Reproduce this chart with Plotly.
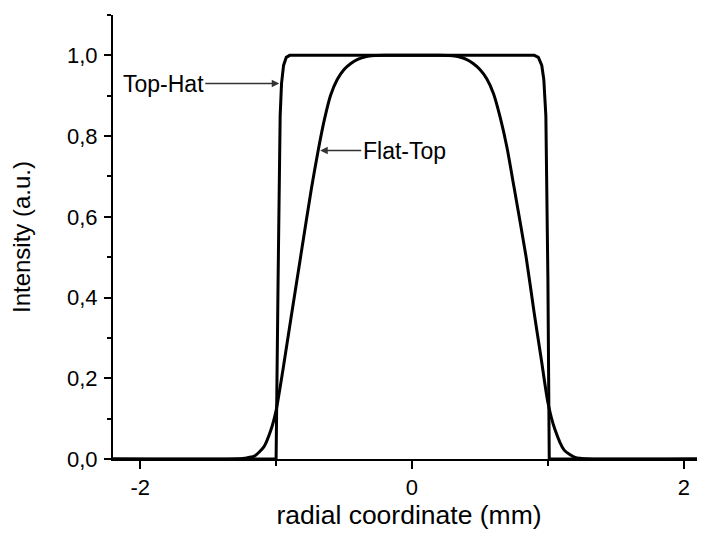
import plotly.graph_objects as go

# Top-Hat profile (radial coordinate in mm, normalised intensity)
hat_x = [-2.2, -1.0, -0.985, -0.97, -0.96, -0.945, -0.925, -0.9,
         0.9, 0.93, 0.955, 0.97, 0.985, 1.0, 1.01, 2.2]
hat_y = [0.0, 0.0, 0.45, 0.85, 0.93, 0.975, 0.995, 1.0,
         1.0, 0.995, 0.975, 0.94, 0.85, 0.45, 0.0, 0.0]

# Flat-Top profile
flat_x = [-2.2, -1.3, -1.23, -1.16, -1.09, -1.04, -1.0, -0.95, -0.89, -0.82,
          -0.74, -0.69, -0.645, -0.6, -0.55, -0.5, -0.45, -0.4, -0.35, -0.3,
          -0.2, 0.0, 0.2, 0.3, 0.35, 0.4, 0.45, 0.5, 0.55, 0.6, 0.65, 0.7,
          0.75, 0.84, 0.9, 0.95, 1.0, 1.05, 1.12, 1.2, 1.3, 2.2]
flat_y = [0.0, 0.0, 0.002, 0.007, 0.03, 0.07, 0.12, 0.22, 0.35, 0.5,
          0.67, 0.765, 0.84, 0.9, 0.94, 0.965, 0.98, 0.99, 0.996, 0.999,
          1.0, 1.0, 1.0, 0.999, 0.996, 0.99, 0.98, 0.965, 0.942, 0.905, 0.845, 0.77,
          0.675, 0.5, 0.36, 0.25, 0.14, 0.075, 0.022, 0.004, 0.0, 0.0]

x_ticks = [-2, 0, 2]
x_labels = ["-2", "0", "2"]
y_ticks = [0.0, 0.2, 0.4, 0.6, 0.8, 1.0]
y_labels = ["0,0", "0,2", "0,4", "0,6", "0,8", "1,0"]

font = "Liberation Sans, Arial, Helvetica, sans-serif"

fig = go.Figure()
fig.add_trace(go.Scatter(x=hat_x, y=hat_y, mode="lines", name="Top-Hat",
                         line=dict(color="black", width=3)))
fig.add_trace(go.Scatter(x=flat_x, y=flat_y, mode="lines", name="Flat-Top",
                         line=dict(color="black", width=3, shape="spline", smoothing=0.6)))

fig.add_annotation(x=-0.962, y=0.93, text="Top-Hat", showarrow=True,
                   axref="pixel", ayref="pixel", ax=-118, ay=0,
                   arrowhead=2, arrowsize=1, arrowwidth=1.5, arrowcolor="#333",
                   standoff=2, font=dict(size=23, color="black", family=font))
fig.add_annotation(x=-0.69, y=0.764, text="Flat-Top", showarrow=True,
                   axref="pixel", ayref="pixel", ax=86, ay=0,
                   arrowhead=2, arrowsize=1, arrowwidth=1.5, arrowcolor="#333",
                   standoff=2, font=dict(size=23, color="black", family=font))

# the page body adds an 8px offset, so the figure is 8px smaller than the window
fig.update_layout(
    width=697, height=530,
    margin=dict(l=105, r=0, t=7, b=79),
    plot_bgcolor="white", paper_bgcolor="white",
    showlegend=False,
    font=dict(family=font, color="black", size=22),
    xaxis=dict(
        range=[-2.2, 2.156], showgrid=False, zeroline=False,
        showline=True, linecolor="black", linewidth=2,
        tickmode="array", tickvals=x_ticks, ticktext=x_labels,
        ticks="outside", ticklen=8, tickwidth=2, tickcolor="black",
        ticklabelstandoff=0,
        minor=dict(tickvals=[-1, 1], ticks="outside", ticklen=5, tickwidth=2,
                   tickcolor="black"),
        title=dict(text="radial coordinate (mm)", font=dict(size=26.5), standoff=4),
    ),
    yaxis=dict(
        range=[0, 1.1], showgrid=False, zeroline=False,
        showline=True, linecolor="black", linewidth=2,
        tickmode="array", tickvals=y_ticks, ticktext=y_labels,
        ticks="outside", ticklen=7, tickwidth=2, tickcolor="black",
        ticklabelstandoff=2,
        minor=dict(tickvals=[0.1, 0.3, 0.5, 0.7, 0.9, 1.1], ticks="outside",
                   ticklen=4, tickwidth=2, tickcolor="black"),
        title=dict(text="Intensity (a.u.)", font=dict(size=24), standoff=32),
    ),
)

fig.write_html("out.html")
